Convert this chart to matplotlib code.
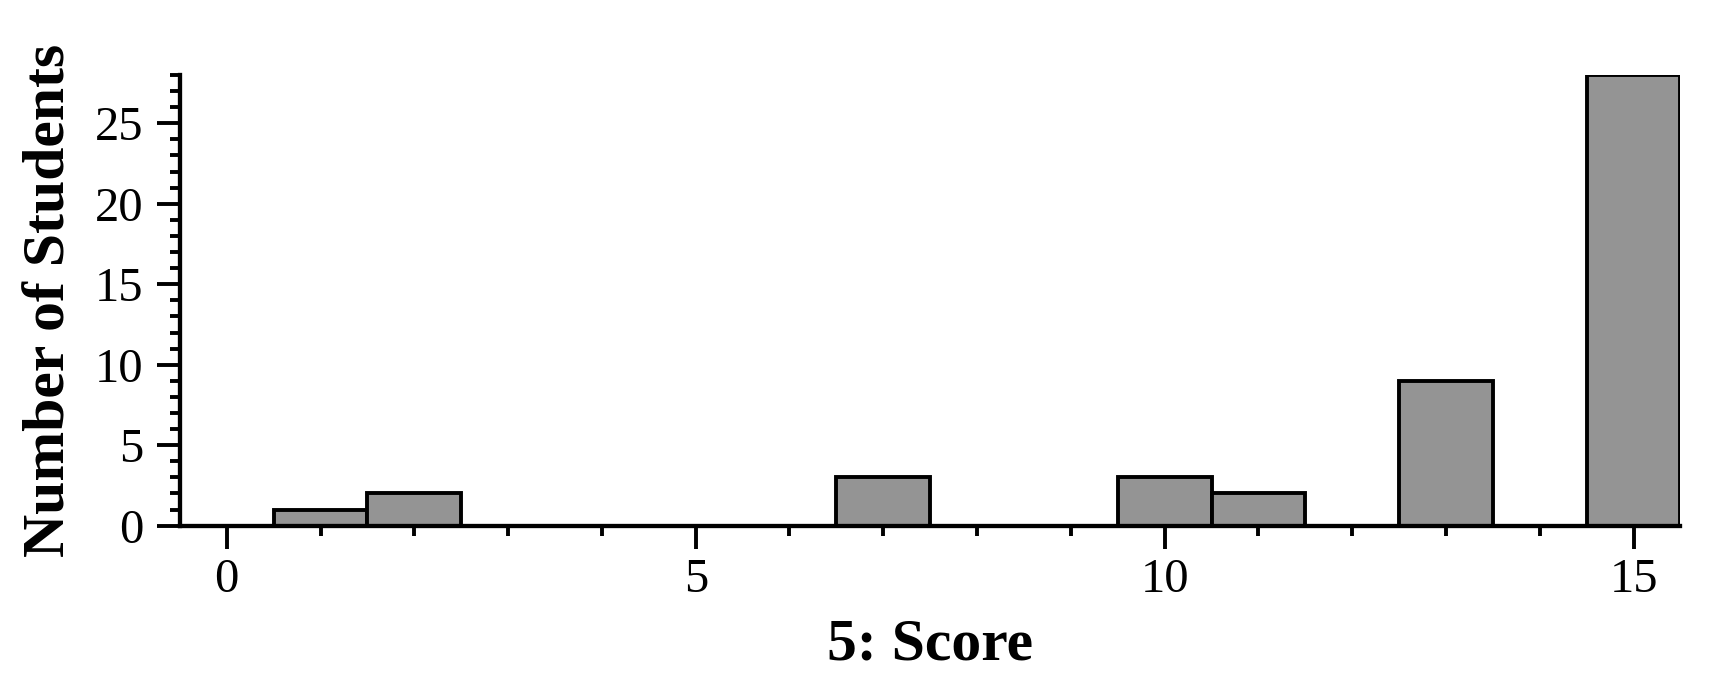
import matplotlib
matplotlib.use('Agg')
import matplotlib.pyplot as plt
from matplotlib.ticker import MultipleLocator

# scores and how many students got each one
scores = [1, 2, 7, 10, 11, 13, 15]
counts = [1, 2, 3, 3, 2, 9, 28]
x_ticks = [0, 5, 10, 15]
y_ticks = [0, 5, 10, 15, 20, 25]

plt.rcParams['font.family'] = ['Liberation Serif', 'DejaVu Serif']

fig = plt.figure(figsize=(17.13, 6.88), dpi=100)
ax = fig.add_axes([0.105, 0.236, 0.876, 0.655])

ax.bar(scores, counts, width=1, color='#949494', edgecolor='black', linewidth=2.8)

ax.set_xlim(-0.5, 15.5)
ax.set_ylim(0, 28)
ax.set_xticks(x_ticks)
ax.set_yticks(y_ticks)
ax.xaxis.set_minor_locator(MultipleLocator(1))
ax.yaxis.set_minor_locator(MultipleLocator(1))

for side in ['top', 'right']:
    ax.spines[side].set_visible(False)
for side in ['left', 'bottom']:
    ax.spines[side].set_linewidth(3.1)

ax.tick_params(which='major', direction='out', length=16.5, width=2.8, labelsize=35, pad=7)
ax.tick_params(which='minor', direction='out', length=7, width=2.8)
ax.tick_params(axis='y', which='major', pad=10)

ax.set_xlabel('5: Score', fontsize=43, fontweight='bold', labelpad=12)
ax.set_ylabel('Number of Students', fontsize=43, fontweight='bold', labelpad=12)

plt.savefig('out.png', dpi=100)
